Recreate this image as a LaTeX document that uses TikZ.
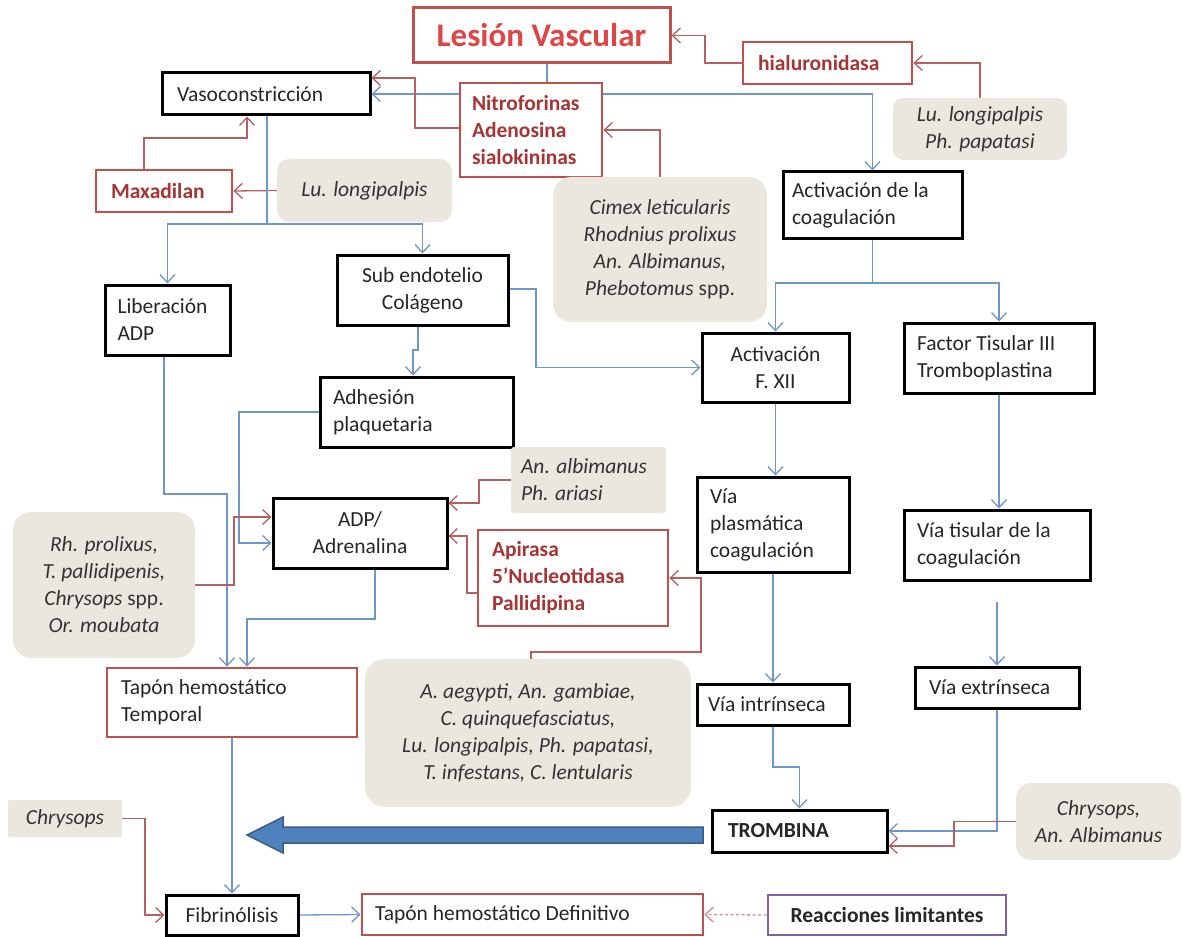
\documentclass[tikz,border=0pt]{standalone}
\usepackage{fontspec}
\setmainfont{Carlito}
\usetikzlibrary{arrows.meta}
\pgfdeclarelayer{bg}
\pgfsetlayers{bg,main}
\definecolor{redline}{RGB}{185,95,95}
\definecolor{blueline}{RGB}{110,150,200}
\definecolor{redbox}{RGB}{192,80,77}
\definecolor{redtext}{RGB}{168,52,52}
\definecolor{lesionred}{RGB}{222,70,70}
\definecolor{grayfill}{RGB}{234,232,222}
\definecolor{arrowfill}{RGB}{79,129,189}
\definecolor{arrowdraw}{RGB}{56,93,138}
\definecolor{purplebox}{RGB}{128,100,162}
\newcommand\myfs{\fontsize{21.5}{27}\selectfont}
\begin{document}
\begin{tikzpicture}[x=1pt,y=-1pt,
  every node/.style={font=\myfs, inner ysep=0pt, text=black!85},
  blk/.style={draw=black, line width=3pt, fill=white},
  rbx/.style={draw=redbox, line width=2.8pt, fill=white},
  rtxt/.style={font=\myfs\bfseries, text=redtext},
  gry/.style={fill=grayfill, font=\myfs\itshape, text=black!80},
  bl/.style={draw=blueline, line width=1.3pt},
  bla/.style={bl, -{Straight Barb[length=8pt,width=15pt]}},
  rd/.style={draw=redline, line width=1.3pt},
  rda/.style={rd, -{Straight Barb[length=8pt,width=15pt]}}]
\useasboundingbox (0,0) rectangle (1182,936);

% nodes
\node[rbx, line width=3pt, minimum width=257pt, minimum height=55pt, font=\fontsize{33}{36}\selectfont\bfseries, text=lesionred] (lesion) at (541.5,35.5) {Lesión Vascular};
\node[rbx, rtxt, minimum width=169pt, minimum height=42pt, align=flush left, inner xsep=15pt, text width=139pt] (hial) at (827.5,63) {hialuronidasa};
\node[gry, rounded corners=10pt, minimum width=174pt, minimum height=62pt, align=center] (luph) at (980,129) {Lu. longipalpis\\Ph. papatasi};
\node[blk, minimum width=208pt, minimum height=42pt, align=flush left, inner xsep=15pt, text width=178pt] (vaso) at (266,94) {Vasoconstricción};
\node[rbx, rtxt, minimum width=142pt, minimum height=94pt, align=flush left, inner xsep=12pt, text width=118pt] (nitro) at (531,130) {Nitroforinas\\Adenosina\\sialokininas};
\node[rbx, rtxt, minimum width=136pt, minimum height=42pt, align=flush left, inner xsep=15pt, text width=106pt] (maxa) at (164,191) {Maxadilan};
\node[gry, rounded corners=12pt, minimum width=175pt, minimum height=63pt, align=center] (lulong) at (364.5,190.5) {Lu. longipalpis};
\node[blk, minimum width=179pt, minimum height=66pt, align=flush left, inner xsep=9pt, text width=161pt] (act) at (872.5,205) {Activación de la\\coagulación};
\node[gry, rounded corners=18pt, minimum width=214pt, minimum height=145pt, align=center] (cimex) at (660,249.5) {Cimex leticularis\\Rhodnius prolixus\\An. Albimanus,\\Phebotomus \upshape spp.};
\node[blk, minimum width=125pt, minimum height=70pt, align=flush left, inner xsep=12.5pt, text width=100pt] (liber) at (167.5,320) {Liberación\\ADP};
\node[blk, minimum width=171pt, minimum height=70pt, align=center] (subendo) at (422.5,290) {Sub endotelio\\Colágeno};
\node[blk, minimum width=193pt, minimum height=70pt, align=flush left, inner xsep=13pt, text width=167pt] (adhes) at (416.5,412) {Adhesión\\plaquetaria};
\node[blk, minimum width=147pt, minimum height=69pt, align=center] (fxii) at (775.5,367.5) {Activación\\F. XII};
\node[blk, minimum width=190pt, minimum height=70pt, align=flush left, inner xsep=13pt, text width=164pt] (factor) at (999,358) {Factor Tisular III\\Tromboplastina};
\node[gry, rounded corners=3pt, minimum width=155pt, minimum height=66pt, align=flush left, inner xsep=10pt, text width=135pt] (albi) at (588.5,480) {An. albimanus\\Ph. ariasi};
\node[blk, minimum width=174pt, minimum height=70pt, align=center] (adp) at (360,533) {ADP/\\Adrenalina};
\node[gry, rounded corners=18pt, minimum width=182pt, minimum height=146pt, align=center] (rh) at (104,585) {Rh. prolixus,\\T. pallidipenis,\\Chrysops \upshape spp.\\Or. moubata};
\node[rbx, rtxt, minimum width=190pt, minimum height=96pt, align=flush left, inner xsep=14pt, text width=162pt] (apir) at (573,578) {Apirasa\\5’Nucleotidasa\\Pallidipina};
\node[blk, minimum width=152pt, minimum height=95pt, align=flush left, inner xsep=13pt, text width=126pt] (plasm) at (773,524.5) {Vía\\plasmática\\coagulación};
\node[blk, minimum width=186pt, minimum height=70pt, align=flush left, inner xsep=13pt, text width=160pt] (tisular) at (997,545) {Vía tisular de la\\coagulación};
\node[rbx, minimum width=250pt, minimum height=69pt, align=flush left, inner xsep=14pt, text width=222pt] (temporal) at (232,702.5) {Tapón hemostático\\Temporal};
\node[gry, rounded corners=20pt, minimum width=326pt, minimum height=148pt, align=center] (aegypti) at (528,733) {A. aegypti, An. gambiae,\\C. quinquefasciatus,\\Lu. longipalpis, Ph. papatasi,\\T. infestans, C. lentularis};
\node[blk, minimum width=152pt, minimum height=41pt, align=flush left, inner xsep=11pt, text width=130pt] (intr) at (773,704.5) {Vía intrínseca};
\node[blk, minimum width=164pt, minimum height=41pt, align=flush left, inner xsep=14pt, text width=136pt] (extr) at (997,687.5) {Vía extrínseca};
\node[blk, minimum width=175pt, minimum height=42pt, align=flush left, inner xsep=16pt, text width=143pt, font=\myfs\bfseries] (tromb) at (799.5,831) {TROMBINA};
\node[gry, rounded corners=15pt, minimum width=165pt, minimum height=77pt, align=center] (chran) at (1098.5,821.5) {Chrysops,\\An. Albimanus};
\node[gry, rounded corners=2pt, minimum width=114pt, minimum height=37pt, align=center] (chry) at (65,818.5) {Chrysops};
\node[blk, minimum width=132pt, minimum height=40pt, align=center] (fibri) at (232,915) {Fibrinólisis};
\node[rbx, minimum width=341pt, minimum height=41pt, align=flush left, inner xsep=13pt, text width=315pt] (tapdef) at (532.5,914.5) {Tapón hemostático Definitivo};
\node[draw=purplebox, line width=2.8pt, fill=white, minimum width=238pt, minimum height=40pt, align=center, font=\myfs\bfseries] (react) at (887,915) {Reacciones limitantes};

% big arrow
\filldraw[fill=arrowfill, draw=arrowdraw, line width=1.5pt, line join=miter]
  (703,827) -- (283,827) -- (283,817) -- (247,835) -- (283,853) -- (283,843) -- (703,843) -- cycle;

\begin{pgfonlayer}{bg}
\fill[white] (0,0) rectangle (1182,936);
\draw[bl] ([xshift=5.5pt]lesion.south) -- (547,94);
\draw[bla] (547,94) -- (vaso.east);
\draw[bla] (547,94) -| (act.north);
\draw[rda] (hial.west) -- (705,63) |- (lesion.east);
\draw[rda] (luph.north) |- (hial.east);
\draw[rda] ([yshift=2pt]nitro.west) -- (415,128) |- ([yshift=16pt]vaso.east);
\draw[rda] (cimex.north) |- (nitro.east);
\draw[rda] ([xshift=-20pt]maxa.north) |- (247,138) -- ([xshift=-19pt]vaso.south);
\draw[rda] (lulong.west) -- (maxa.east);
\draw[bl] ([xshift=1pt]vaso.south) -- (267,224);
\draw[bla] (267,224) -| (liber.north);
\draw[bla] (267,224) -| (subendo.north);
\draw[bla] ([xshift=-4.5pt]subendo.south) -- (418,350) -- (413,350) -- ([xshift=-3.5pt]adhes.north);
\draw[bla] ([yshift=1pt]subendo.east) -- (536,289) |- (fxii.west);
\draw[bl] (act.south) -- (872.5,283);
\draw[bla] (872.5,283) -| (fxii.north);
\draw[bla] (872.5,283) -| (factor.north);
\draw[bla] (fxii.south) -- (fxii.south |- plasm.north);
\draw[bla] (factor.south) -- (factor.south |- tisular.north);
\coordinate (tisgap) at ([yshift=-20pt]tisular.south);
\draw[bla] (tisgap) -- (extr.north);
\draw[bla] (plasm.south) -- (intr.north);
\draw[bla] (intr.south) -- (773,767) -| (tromb.north);
\draw[bla] (extr.south) |- (tromb.east);
\draw[rda] (chran.west) -- (954,821.5) |- ([yshift=-15pt]tromb.east);
\draw[bla] ([xshift=-3.5pt]liber.south) |- (227,494) -- ([xshift=-5pt]temporal.north);
\draw[bla] (adhes.west) -- (239,412) |- ([yshift=-10pt]adp.west);
\draw[rda] (rh.east) -- (234,585) |- ([yshift=16pt]adp.west);
\draw[bla] ([xshift=15pt]adp.south) |- (247,619) -- ([xshift=15pt]temporal.north);
\draw[rda] (albi.west) -- (479,480) |- ([yshift=30pt]adp.east);
\draw[rda] ([yshift=-15pt]apir.west) -- (467,593) |- ([yshift=-3pt]adp.east);
\draw[rda] ([xshift=3pt]aegypti.north) |- (701,652) |- (apir.east);
\draw[bla] (temporal.south) -- (fibri.north);
\draw[rda] (chry.east) -- (145,818.5) |- (fibri.west);
\draw[bla] (fibri.east) -- (tapdef.west);
\draw[rda, dash pattern=on 3pt off 2.5pt, draw=redline!70] (react.west) -- (tapdef.east);
\end{pgfonlayer}
\end{tikzpicture}
\end{document}
